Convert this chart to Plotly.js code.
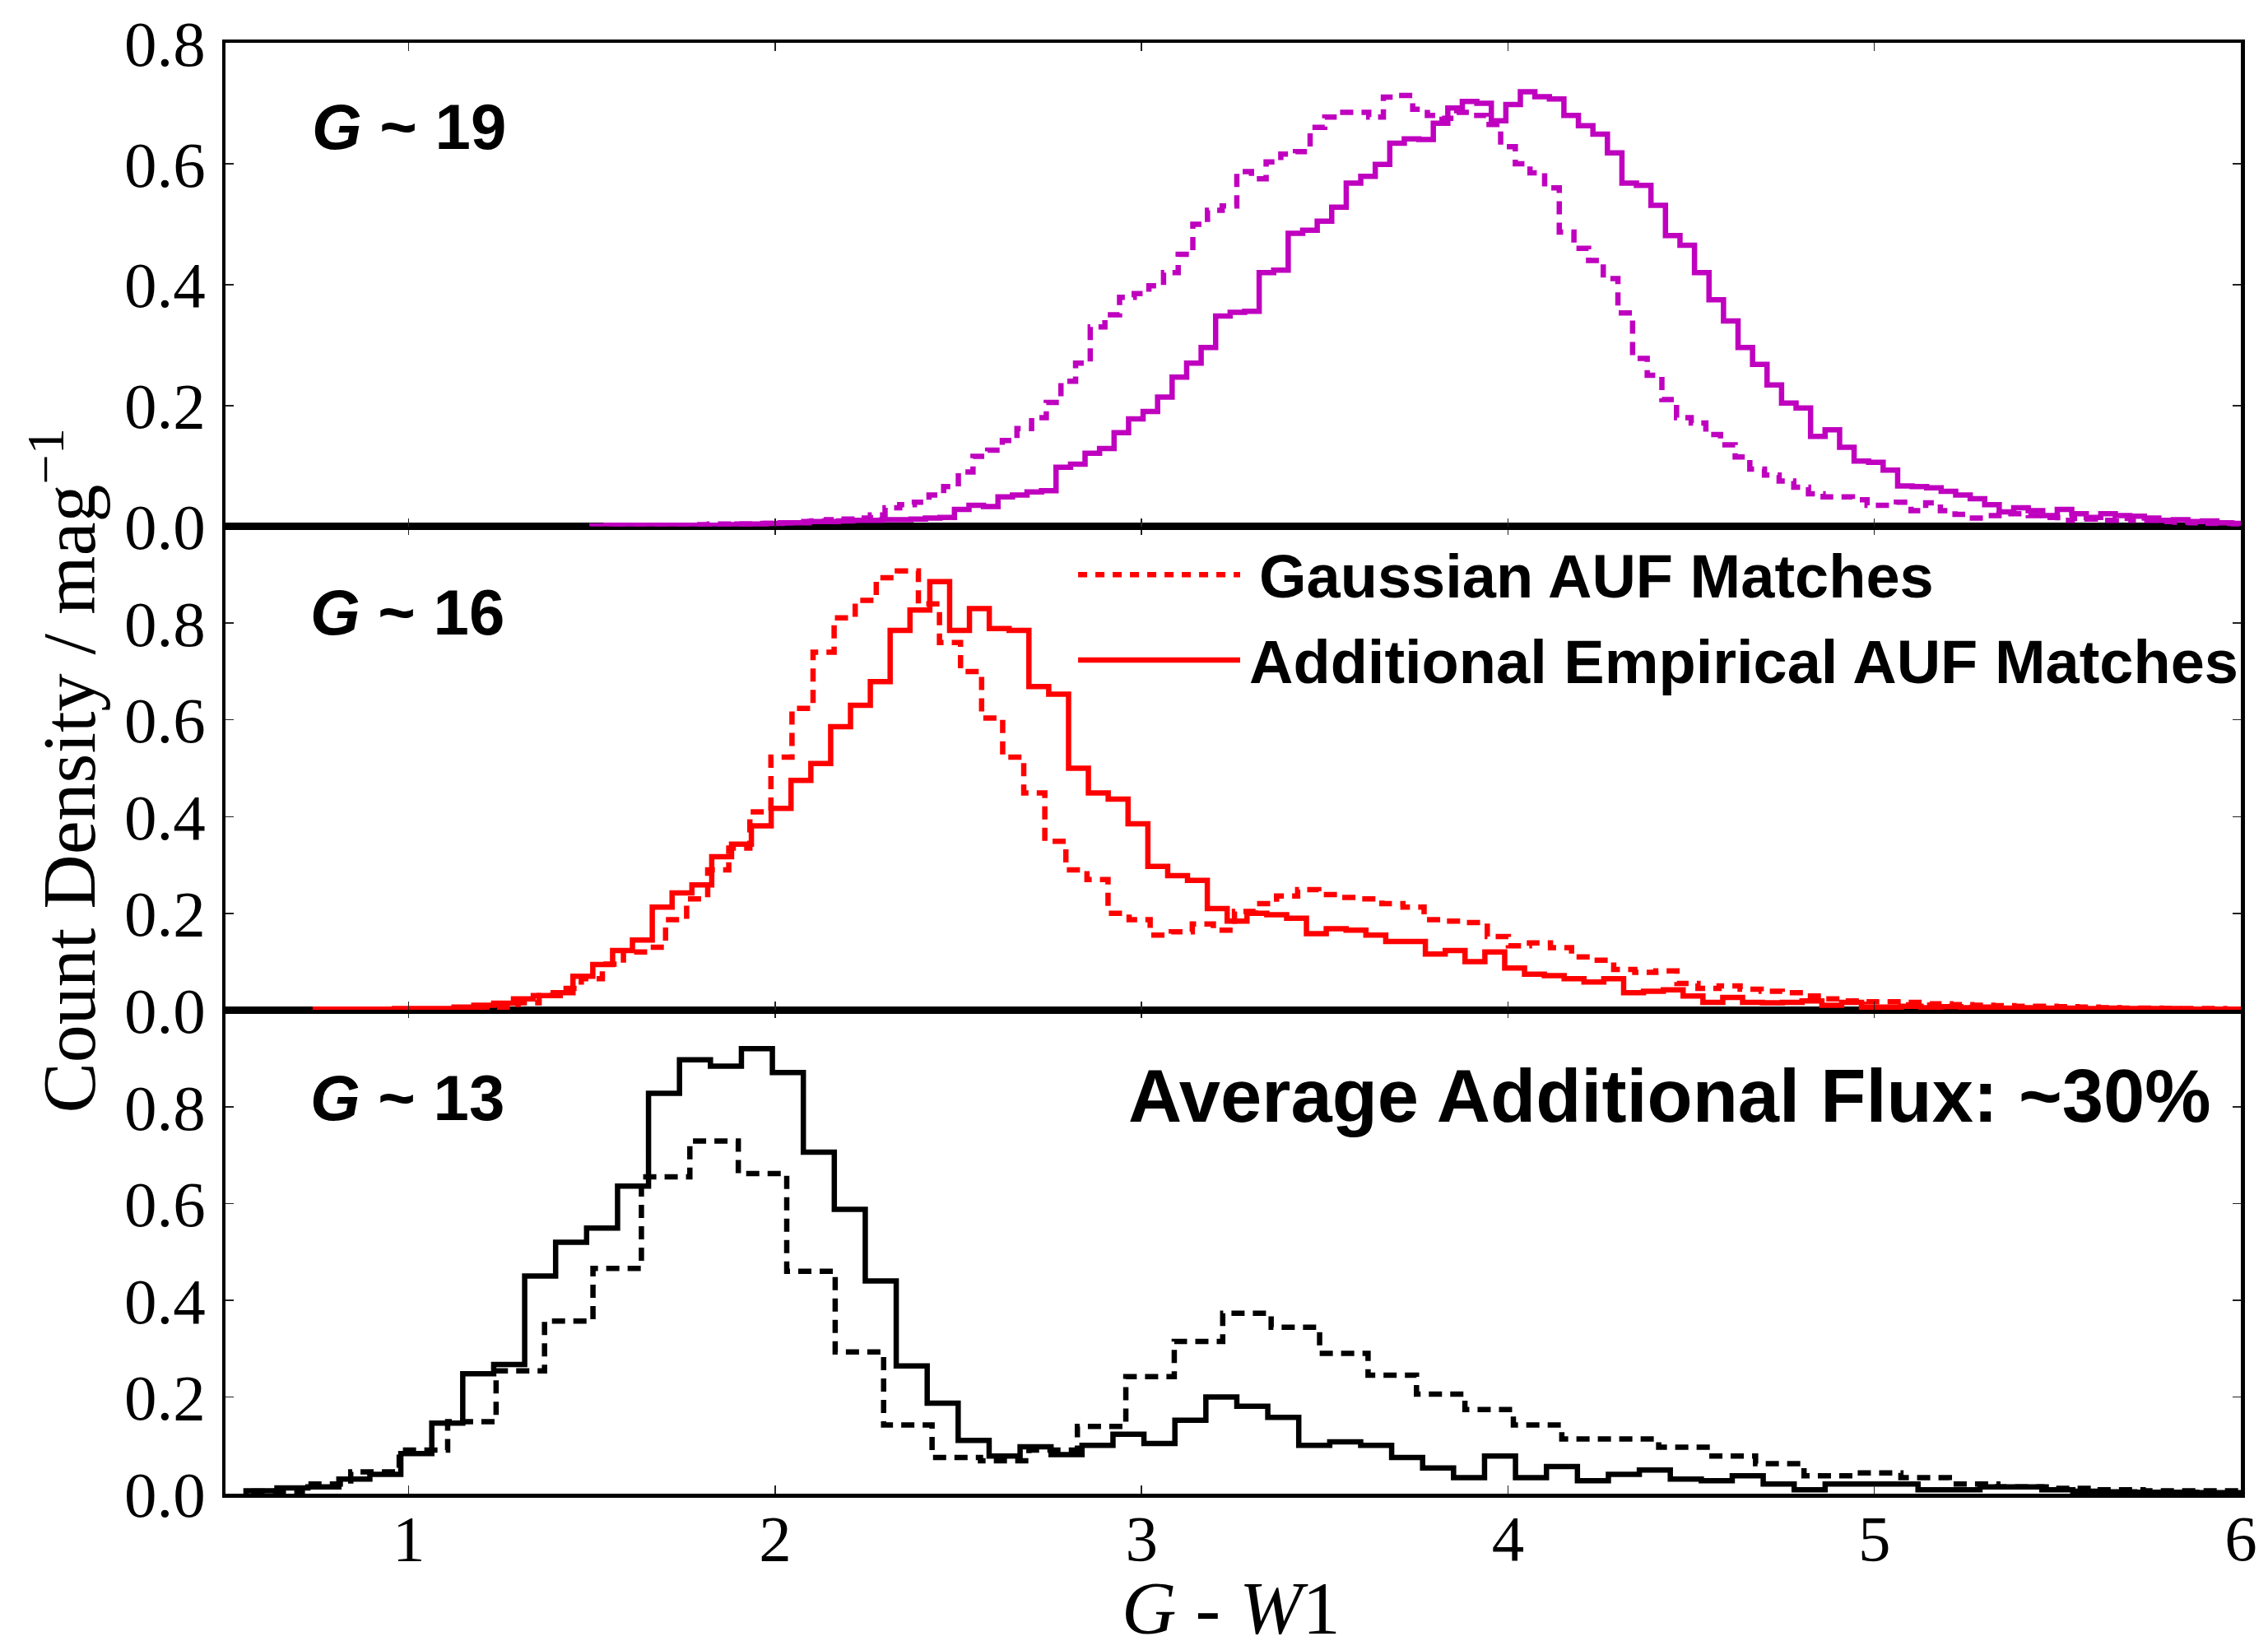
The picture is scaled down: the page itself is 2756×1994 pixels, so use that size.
<!DOCTYPE html>
<html>
<head>
<meta charset="utf-8">
<script src="https://cdn.plot.ly/plotly-3.0.1.min.js"></script>
<style>
html,body{margin:0;padding:0;background:#ffffff;}
#chart{width:2756px;height:1994px;}
</style>
</head>
<body>
<div id="chart"></div>
<script>
// ---------------- data ----------------
const xTickValues = [1, 2, 3, 4, 5, 6];
const yTickValues = [0, 0.2, 0.4, 0.6, 0.8];

const panelLabels = ["<i>G</i> ~ 19", "<i>G</i> ~ 16", "<i>G</i> ~ 13"];
const legendLabels = ["Gaussian AUF Matches", "Additional Empirical AUF Matches"];
const fluxLabel = "Average Additional Flux: ~30%";
const xTitle = "<i>G</i> - <i>W</i>1";
const yTitle = "Count Density / mag<sup>−1</sup>";

// G ~ 19 (magenta)
const g19SolidStart = 1.539, g19SolidWidth = 0.0396;
const g19Solid = [0.002,0.002,0.002,0.002,0.002,0.002,0.002,0.002,
 0.003,0.004,0.004,0.005,0.006,0.006,0.008,0.008,0.009,0.01,0.01,0.011,0.011,0.012,0.014,0.015,
 0.028,0.035,0.033,0.049,0.052,0.057,0.059,0.098,0.103,0.121,0.129,0.155,0.178,
 0.19,0.214,0.247,0.27,0.296,0.348,0.354,0.356,0.42,0.424,0.485,0.49,0.505,0.528,0.568,0.579,0.599,0.634,0.641,0.64,0.667,0.692,0.703,0.70,0.671,0.698,
 0.719,0.711,0.707,0.68,0.663,0.649,0.618,0.568,0.564,0.531,0.481,0.465,0.42,0.375,0.34,0.296,0.268,0.234,0.204,0.196,0.149,0.16,0.131,0.108,0.106,0.093,
 0.067,0.066,0.064,0.058,0.052,0.046,0.036,0.024,0.031,0.026,0.018,0.028,0.021,0.015,0.021,0.018,0.017,0.014,0.01,0.011,0.008,0.009,0.006,0.005];

const g19DashStart = 1.50, g19DashWidth = 0.04;
const g19Dash = [0.001,0.002,0.002,0.002,0.002,0.002,0.002,0.003,0.004,0.004,
 0.004,0.005,0.005,0.006,0.008,0.009,0.011,0.012,0.014,0.019,
 0.031,0.036,0.04,0.052,0.066,0.09,0.116,0.126,0.142,0.162,
 0.18,0.205,0.24,0.27,0.33,0.35,0.379,0.385,0.398,0.42,
 0.45,0.50,0.523,0.53,0.587,0.575,0.603,0.616,0.62,0.66,
 0.677,0.685,0.685,0.677,0.71,0.713,0.69,0.68,0.675,0.685,
 0.68,0.665,0.628,0.60,0.585,0.56,0.487,0.46,0.44,0.41,
 0.353,0.278,0.25,0.21,0.18,0.171,0.152,0.135,0.115,0.095,
 0.085,0.075,0.065,0.054,0.049,0.049,0.044,0.035,0.035,0.04,
 0.026,0.039,0.026,0.02,0.014,0.018,0.021,0.021,0.018,0.015,
 0.01,0.013,0.012,0.01,0.013,0.01,0.01,0.008,0.007,0.006,
 0.005,0.005,0.004];

// G ~ 16 (red)
const g16SolidStart = 0.745, g16SolidWidth = 0.0541;
const g16Solid = [0.002,0.002,0.002,0.002,0.003,0.003,0.003,0.006,0.01,0.014,
 0.023,0.03,0.036,0.07,0.094,0.123,0.145,0.213,0.242,0.259,
 0.317,0.343,0.381,0.417,0.475,0.51,0.586,0.63,0.679,0.785,
 0.827,0.886,0.785,0.83,0.789,0.785,0.669,0.653,0.50,0.449,
 0.436,0.385,0.297,0.278,0.268,0.21,0.184,0.2,0.197,0.19,
 0.158,0.168,0.165,0.155,0.142,0.142,0.116,0.123,0.10,0.12,
 0.087,0.074,0.071,0.065,0.058,0.065,0.036,0.039,0.042,0.029,
 0.016,0.026,0.016,0.015,0.016,0.019,0.01,0.016,0.006,0.006,
 0.008,0.005,0.007,0.005,0.006,0.004,0.005,0.004,0.004,0.003,
 0.004,0.003,0.003,0.003,0.002,0.002,0.002,0.002];

const g16DashStart = 0.781, g16DashWidth = 0.0575;
const g16Dash = [0.002,0.002,0.002,0.002,0.002,0.002,0.002,0.004,0.006,0.015,
 0.03,0.045,0.065,0.095,0.12,0.13,0.187,0.23,0.29,0.335,
 0.41,0.523,0.624,0.74,0.811,0.847,0.894,0.908,0.84,0.76,
 0.70,0.604,0.523,0.449,0.349,0.29,0.27,0.2,0.187,0.155,
 0.162,0.178,0.165,0.204,0.22,0.236,0.249,0.239,0.233,0.23,
 0.22,0.213,0.187,0.184,0.181,0.152,0.133,0.139,0.129,0.11,
 0.103,0.084,0.078,0.081,0.055,0.045,0.05,0.043,0.039,0.036,
 0.029,0.023,0.019,0.017,0.017,0.016,0.013,0.011,0.01,0.009,
 0.008,0.008,0.007,0.006,0.005,0.004,0.004,0.003,0.003,0.003,
 0.002];

// G ~ 13 (black)
const g13SolidStart = 0.556, g13SolidWidth = 0.0845;
const g13Solid = [0.006,0.012,0.014,0.03,0.04,0.083,0.146,0.248,0.267,0.45,
 0.52,0.549,0.636,0.828,0.897,0.884,0.92,0.871,0.706,0.588,
 0.44,0.264,0.187,0.11,0.078,0.097,0.081,0.10,0.123,0.104,
 0.152,0.20,0.181,0.158,0.10,0.107,0.10,0.075,0.053,0.033,
 0.078,0.033,0.056,0.027,0.04,0.049,0.03,0.027,0.037,0.02,
 0.008,0.02,0.02,0.02,0.008,0.008,0.014,0.014,0.008,0.005,
 0.004,0.003,0.003,0.002,0.002];

const g13DashStart = 0.5775, g13DashWidth = 0.1322;
const g13Dash = [0.005,0.02,0.045,0.09,0.149,0.254,0.357,0.466,0.655,0.729,
 0.662,0.46,0.293,0.142,0.075,0.068,0.09,0.139,0.242,0.315,
 0.373,0.344,0.29,0.245,0.206,0.174,0.142,0.113,0.113,0.096,
 0.078,0.062,0.037,0.043,0.033,0.02,0.014,0.011,0.008,0.006,
 0.006];

// ---------------- styling ----------------
const MAGENTA = '#BF00BF', RED = '#FF0000', BLACK = '#000000';
const LW = 6.5;
const DASH = '16px,10px';
const LEGEND_DASH = '11px,10px';

function stepTrace(start, width, heights, color, dash, xa, ya, name) {
  const x = [start], y = [0];
  heights.forEach((h, i) => { x.push(start + i * width); y.push(h); });
  x.push(start + heights.length * width); y.push(0);
  return {
    type: 'scatter', mode: 'lines', x: x, y: y, xaxis: xa, yaxis: ya, name: name,
    line: {shape: 'hv', color: color, width: LW, dash: dash},
    hoverinfo: 'skip', showlegend: false
  };
}

const traces = [
  stepTrace(g13DashStart, g13DashWidth, g13Dash, BLACK, DASH, 'x', 'y', legendLabels[0]),
  stepTrace(g13SolidStart, g13SolidWidth, g13Solid, BLACK, 'solid', 'x', 'y', legendLabels[1]),
  stepTrace(g16DashStart, g16DashWidth, g16Dash, RED, DASH, 'x2', 'y2', legendLabels[0]),
  stepTrace(g16SolidStart, g16SolidWidth, g16Solid, RED, 'solid', 'x2', 'y2', legendLabels[1]),
  stepTrace(g19DashStart, g19DashWidth, g19Dash, MAGENTA, DASH, 'x3', 'y3', legendLabels[0]),
  stepTrace(g19SolidStart, g19SolidWidth, g19Solid, MAGENTA, 'solid', 'x3', 'y3', legendLabels[1])
];

const serif = 'Liberation Serif, Times New Roman, serif';
const sans = 'Liberation Sans, Arial, Helvetica, sans-serif';
const tickFont = {family: serif, size: 79, color: '#000'};

function xAxis(anchor, showLabels) {
  return {
    domain: [0, 1], anchor: anchor, range: [0.5, 6],
    tickmode: 'array', tickvals: xTickValues, ticktext: xTickValues.map(String),
    showticklabels: showLabels,
    ticks: 'inside', ticklen: 10, tickwidth: 1.5, tickcolor: '#222',
    mirror: 'allticks', showline: true, linewidth: 4.5, linecolor: '#000',
    showgrid: false, zeroline: false, tickfont: tickFont, ticklabelstandoff: -18
  };
}
function yAxis(anchor, domain, range) {
  return {
    domain: domain, anchor: anchor, range: range,
    tickmode: 'array', tickvals: yTickValues, ticktext: yTickValues.map(v => v.toFixed(1)),
    ticks: 'inside', ticklen: 10, tickwidth: 1.5, tickcolor: '#222',
    mirror: 'allticks', showline: true, linewidth: 4.5, linecolor: '#000',
    showgrid: false, zeroline: false, tickfont: tickFont, ticklabelstandoff: 4
  };
}

// paper coordinate helpers (plot area: left 273.5, right 2723.5, top 51.5, bottom 1815.5)
const PL = 273.5, PW = 2450, PB = 1815.5, PH = 1764;
const px = X => (X - PL) / PW;
const py = Y => (PB - Y) / PH;

const annFontBold = size => ({family: sans, size: size, color: '#000'});

const annotations = [
  {text: '<b>' + panelLabels[0] + '</b>', xref: 'paper', yref: 'paper', x: px(378), y: py(153.5), xanchor: 'left', yanchor: 'middle', showarrow: false, font: annFontBold(78), borderpad: 0},
  {text: '<b>' + panelLabels[1] + '</b>', xref: 'paper', yref: 'paper', x: px(376), y: py(743.5), xanchor: 'left', yanchor: 'middle', showarrow: false, font: annFontBold(78), borderpad: 0},
  {text: '<b>' + panelLabels[2] + '</b>', xref: 'paper', yref: 'paper', x: px(376), y: py(1334), xanchor: 'left', yanchor: 'middle', showarrow: false, font: annFontBold(78), borderpad: 0},
  {text: '<b>' + fluxLabel + '</b>', xref: 'paper', yref: 'paper', x: px(1370), y: py(1332), xanchor: 'left', yanchor: 'middle', showarrow: false, font: annFontBold(90.3), borderpad: 0},
  {text: '<b>' + legendLabels[0] + '</b>', xref: 'paper', yref: 'paper', x: px(1529), y: py(700), xanchor: 'left', yanchor: 'middle', showarrow: false, font: annFontBold(74), borderpad: 0},
  {text: '<b>' + legendLabels[1] + '</b>', xref: 'paper', yref: 'paper', x: px(1517), y: py(804.5), xanchor: 'left', yanchor: 'middle', showarrow: false, font: annFontBold(74), borderpad: 0},
  {text: xTitle, xref: 'paper', yref: 'paper', x: px(1496), y: py(1955), xanchor: 'center', yanchor: 'middle', height: 72, showarrow: false, font: {family: serif, size: 92, color: '#000'}, borderpad: 0},
  {text: yTitle, xref: 'paper', yref: 'paper', x: px(77), y: py(936), xanchor: 'center', yanchor: 'middle', textangle: -90, showarrow: false, font: {family: serif, size: 92, color: '#000'}, borderpad: 0}
];

const shapes = [
  {type: 'line', xref: 'paper', yref: 'paper', x0: px(1310), x1: px(1507), y0: py(698), y1: py(698), line: {color: RED, width: LW, dash: LEGEND_DASH}},
  {type: 'line', xref: 'paper', yref: 'paper', x0: px(1310), x1: px(1507), y0: py(802), y1: py(802), line: {color: RED, width: LW}}
];

const layout = {
  width: 2756, height: 1994,
  margin: {l: PL, r: 2756 - PL - PW, t: PB - PH, b: 1994 - PB, pad: 0, autoexpand: false},
  paper_bgcolor: '#fff', plot_bgcolor: '#fff',
  showlegend: false,
  xaxis: xAxis('y', true),
  xaxis2: xAxis('y2', false),
  xaxis3: xAxis('y3', false),
  yaxis: yAxis('x', [0, 1/3], [0, 1.0]),
  yaxis2: yAxis('x2', [1/3, 2/3], [0, 1.0]),
  yaxis3: yAxis('x3', [2/3, 1], [0, 0.8]),
  annotations: annotations,
  shapes: shapes
};

Plotly.newPlot('chart', traces, layout, {staticPlot: true, displayModeBar: false});
</script>
</body>
</html>
